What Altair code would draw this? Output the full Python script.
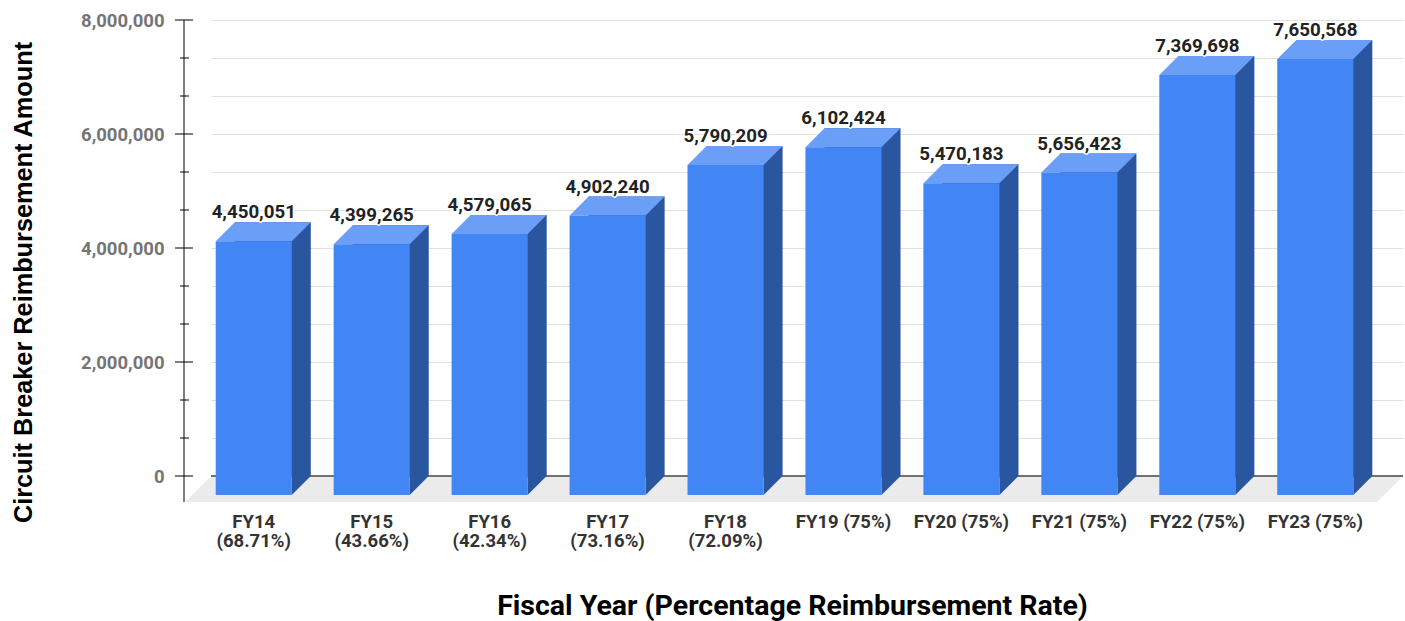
import altair as alt
import pandas as pd

# ---- data ----
categories = ["FY14 (68.71%)", "FY15 (43.66%)", "FY16 (42.34%)", "FY17 (73.16%)",
              "FY18 (72.09%)", "FY19 (75%)", "FY20 (75%)", "FY21 (75%)",
              "FY22 (75%)", "FY23 (75%)"]
amounts = [4450051, 4399265, 4579065, 4902240, 5790209,
           6102424, 5470183, 5656423, 7369698, 7650568]
major_ticks = [0, 2000000, 4000000, 6000000, 8000000]
grid_ticks = [i * 8000000 / 12 for i in range(13)]
minor_ticks = [v for v in grid_ticks if v not in major_ticks]

df = pd.DataFrame({"cat": categories, "amount": amounts, "base": [0] * len(amounts)})
zero_df = pd.DataFrame({"v": [0]})
major_df = pd.DataFrame({"t": major_ticks})
minor_df = pd.DataFrame({"t": minor_ticks})

# ---- styling / geometry ----
W, H = 1192, 456
D = 19      # bar depth (px)
FD = 26     # floor depth (px)
HALF = 38
FRONT = "#4285F4"
TOP = "#6B9EF6"
SIDE = "#2A56A0"
FLOOR = "#EBEBEB"

xscale = alt.Scale(type="band", domain=categories, paddingInner=0.355,
                   paddingOuter=0.2306, align=0.436)
yscale = alt.Scale(domain=[0, 8000000], nice=False, zero=True)

x_axis = alt.Axis(
    title="Fiscal Year (Percentage Reimbursement Rate)",
    titleFont="Roboto", titleFontSize=28.5, titleFontWeight="bold", titleColor="#000000",
    titleX=581, titleY=129, titleAlign="center", titleBaseline="middle",
    labelAngle=0, labelFont="Roboto", labelFontSize=18.5, labelFontWeight="bold",
    labelColor="#333333", labelOffset=-D, labelPadding=36, labelBaseline="top",
    labelLineHeight=19.5,
    labelExpr="length(datum.label) > 11 ? split(datum.label, ' ') : datum.label",
    domain=False, ticks=False, tickSize=0, grid=False, labelOverlap=False)

y_axis = alt.Axis(
    values=grid_ticks,
    labelExpr="datum.value % 2000000 == 0 ? format(datum.value, ',') : ''",
    grid=True, gridColor="#E0E0E0", gridWidth=1,
    domain=False, ticks=False, tickSize=0, labelPadding=47, labelOverlap=False,
    labelFont="Roboto", labelFontSize=18.5, labelFontWeight="bold", labelColor="#757575",
    title="Circuit Breaker Reimbursement Amount",
    titleFont="Liberation Sans", titleFontSize=25.3, titleFontWeight="bold",
    titleColor="#000000", titleAngle=270, titleX=-188, titleY=262,
    titleAlign="center", titleBaseline="middle")


def X():
    return alt.X("cat:N", scale=xscale, axis=x_axis, sort=categories)


def Y(field):
    return alt.Y(field, scale=yscale, axis=y_axis, stack=None)


floor_path = f"M0,0L{W},0L{W - FD},{FD}L{-FD},{FD}Z"
floor = alt.Chart(zero_df).mark_point(
    shape=floor_path, size=4, filled=True, color=FLOOR, opacity=1
).encode(x=alt.value(0), y=Y("v:Q"))

zero_line = alt.Chart(zero_df).mark_rule(color="#444444", strokeWidth=1.5).encode(
    y=Y("v:Q"), x=alt.value(0), x2=alt.value(W))

back = alt.Chart(df).mark_bar(color=SIDE, opacity=1).encode(
    x=X(), y=Y("amount:Q"), y2=alt.Y2("base:Q"))

bottom_tri = alt.Chart(df).mark_point(
    shape=f"M{HALF - D},0L{HALF},0L{HALF - D},{D}Z", size=4, filled=True,
    color=SIDE, opacity=1
).encode(x=X(), y=Y("base:Q"))

top_face = alt.Chart(df).mark_point(
    shape=f"M{-HALF},0L{HALF},0L{HALF - D},{D}L{-HALF - D},{D}Z", size=4,
    filled=True, color=TOP, opacity=1
).encode(x=X(), y=Y("amount:Q"))

front = alt.Chart(df).mark_bar(
    color=FRONT, opacity=1, xOffset=-D, x2Offset=-D, yOffset=D, y2Offset=D
).encode(x=X(), y=Y("amount:Q"), y2=alt.Y2("base:Q"))

label_kw = dict(font="Roboto", fontSize=18.7, fontWeight="bold", align="center",
                baseline="alphabetic", dx=-D, dy=-4)
halo = alt.Chart(df).mark_text(color="#FFFFFF", stroke="#FFFFFF", strokeWidth=3,
                               strokeJoin="round", **label_kw).encode(
    x=X(), y=Y("amount:Q"), text=alt.Text("amount:Q", format=","))
labels = alt.Chart(df).mark_text(color="#222222", **label_kw).encode(
    x=X(), y=Y("amount:Q"), text=alt.Text("amount:Q", format=","))

axis_line = alt.Chart(zero_df).mark_rule(color="#000000", strokeWidth=1).encode(
    x=alt.value(-27), y=alt.value(0), y2=alt.value(H + FD))
major = alt.Chart(major_df).mark_rule(color="#000000", strokeWidth=1).encode(
    y=Y("t:Q"), x=alt.value(-36), x2=alt.value(-18))
minor = alt.Chart(minor_df).mark_rule(color="#000000", strokeWidth=1).encode(
    y=Y("t:Q"), x=alt.value(-31), x2=alt.value(-22))

chart = alt.layer(
    floor, zero_line, back, bottom_tri, top_face, front, halo, labels,
    axis_line, major, minor
).properties(
    width=W, height=H,
    autosize=alt.AutoSizeParams(type="none"),
    padding={"left": 211, "top": 20, "right": 2, "bottom": 145},
    background="#FFFFFF",
).configure_view(strokeWidth=0)

chart.save("out.html", embed_options={"renderer": "svg", "actions": False})
